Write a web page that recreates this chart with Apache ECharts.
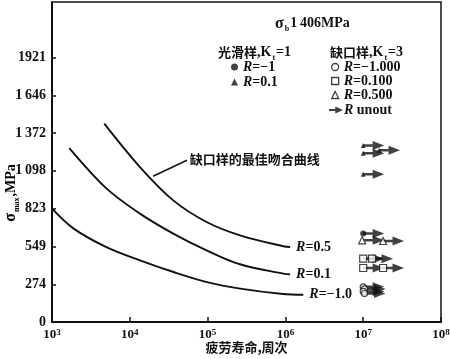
<!DOCTYPE html>
<html><head><meta charset="utf-8">
<script src="https://cdn.jsdelivr.net/npm/echarts@6/dist/echarts.min.js"></script>
<style>html,body{margin:0;padding:0;background:#fff}#c{width:450px;height:359px}</style>
</head><body><div id="c"></div>
<script>
// ---- data ----
const yTickValues = [0, 274, 549, 823, 1098, 1372, 1646, 1921];
const yTickLabels = ['0', '274', '549', '823', '1\u2009098', '1\u2009372', '1\u2009646', '1921'];
const xMin = 1e3, xMax = 1e8;

const curveM1N = [1000, 1900, 5000, 13500, 36500, 98000, 263000, 930000, 1700000];
const curveM1S = [823, 678, 544, 448, 363, 290, 242, 203, 198];
const curve01N = [1670, 5050, 13500, 36200, 97000, 261000, 940000, 1150000];
const curve01S = [1263, 968, 787, 642, 520, 419, 351, 346];
const curve05N = [4700, 13500, 36200, 97000, 261000, 940000, 1150000];
const curve05S = [1440, 1125, 883, 726, 629, 550, 544];

const smoothRm1N = [1e7];
const smoothRm1S = [642];
const smoothR01N = [1e7, 1.6e7, 1e7, 1e7];
const smoothR01S = [1282, 1246, 1225, 1072];
const notchRm1N = [1e7, 1.04e7, 1e7, 1.04e7];
const notchRm1S = [255, 240, 222, 207];
const notchR01N = [1e7, 1.3e7, 1e7, 1.8e7];
const notchR01S = [460, 460, 392, 392];
const notchR05N = [9.7e6, 1.8e7];
const notchR05S = [593, 588];
const runoutN = [1e7, 1.6e7, 1e7, 1e7, 1e7, 1e7, 1.8e7, 1e7, 1.3e7, 1e7, 1.8e7, 1e7, 1.04e7, 1e7, 1.04e7];
const runoutS = [1282, 1246, 1225, 1072, 642, 593, 588, 460, 460, 392, 392, 255, 240, 222, 207];

const leaderN = [19900, 54300];
const leaderS = [1058, 1174];

const zip = (a, b) => a.map((v, i) => [v, b[i]]);
const SERIF = 'Liberation Serif';
const CJK = 'Noto Sans CJK SC';
const INK = '#111';
const ARROW = 'path://M0,3.6 L9,3.6 L9,0 L20,5 L9,10 L9,6.4 L0,6.4 Z';

const legendText = {
  sA: '{i|R}=\u22121', sB: '{i|R}=0.1',
  nA: '{i|R}=\u22121.000', nB: '{i|R}=0.100', nC: '{i|R}=0.500', nD: '{i|R} unout'
};
const richBase = {
  i: { fontFamily: SERIF, fontStyle: 'italic', fontWeight: 'bold', fontSize: 14, color: INK },
  s: { fontFamily: SERIF, fontWeight: 'bold', fontSize: 8, color: INK, verticalAlign: 'bottom', lineHeight: 8, padding: [0, 1, 0, 1] },
  u: { fontFamily: SERIF, fontWeight: 'bold', fontSize: 9, color: INK, verticalAlign: 'top' },
  c: { fontFamily: CJK, fontWeight: 'bold', fontSize: 13, color: INK, lineHeight: 19 },
  a: { fontFamily: SERIF, fontWeight: 'bold', fontSize: 14, color: INK, lineHeight: 19 },
  g: { fontFamily: SERIF, fontWeight: 'bold', fontSize: 16, color: INK, lineHeight: 19 }
};

const chart = echarts.init(document.getElementById('c'), null, { renderer: 'canvas' });

function curve(name, N, S, label) {
  return {
    name, type: 'line', data: zip(N, S), smooth: 0.35, symbol: 'none',
    lineStyle: { color: INK, width: 1.9 }, silent: true,
    endLabel: { show: true, formatter: label, distance: 6, rich: richBase,
      fontFamily: SERIF, fontWeight: 'bold', fontSize: 14, color: INK }
  };
}
const legendTextStyle = { fontFamily: SERIF, fontWeight: 'bold', fontSize: 14, lineHeight: 14, color: INK,
  rich: Object.assign({}, richBase, { i: Object.assign({}, richBase.i, { lineHeight: 14 }) }) };

chart.setOption({
  animation: false,
  backgroundColor: '#fff',
  grid: { left: 52, right: 9, top: 2, bottom: 37, outerBoundsMode: 'none', containLabel: false,
    show: true, borderColor: INK, borderWidth: 1.5, backgroundColor: 'transparent' },
  title: [
    { text: '{g|\u03c3}{s|b}{a|1\u2009406MPa}', left: 275, top: 14, padding: 0, textStyle: { rich: richBase } },
    { text: '{c|光滑样}{a|,K}{s|t}{a|=1}', left: 218, top: 43, padding: 0, textStyle: { rich: richBase } },
    { text: '{c|缺口样}{a|,K}{s|t}{a|=3}', left: 330, top: 43, padding: 0, textStyle: { rich: richBase } }
  ],
  legend: [
    { left: 231, top: 60, padding: 0, orient: 'vertical', itemGap: 1, itemWidth: 7, itemHeight: 7, selectedMode: false,
      formatter: n => legendText[n], textStyle: legendTextStyle,
      data: [
        { name: 'sA', icon: 'circle', itemStyle: { color: INK } },
        { name: 'sB', icon: 'triangle', itemStyle: { color: INK } }
      ] },
    { left: 331, top: 60, padding: 0, orient: 'vertical', itemGap: 0, itemWidth: 7, itemHeight: 7, selectedMode: false,
      formatter: n => legendText[n], textStyle: legendTextStyle,
      data: [
        { name: 'nA', icon: 'circle', itemStyle: { color: '#fff', borderColor: INK, borderWidth: 1.3 } },
        { name: 'nB', icon: 'rect', itemStyle: { color: '#fff', borderColor: INK, borderWidth: 1.3 } },
        { name: 'nC', icon: 'triangle', itemStyle: { color: '#fff', borderColor: INK, borderWidth: 1.3 } }
      ] },
    { left: 329, top: 103, padding: 0, orient: 'vertical', itemWidth: 14, itemHeight: 7, selectedMode: false,
      formatter: n => legendText[n],
      textStyle: Object.assign({}, legendTextStyle, { padding: [0, 0, 0, -4] }),
      data: [ { name: 'nD', icon: ARROW, itemStyle: { color: INK } } ] }
  ],
  xAxis: {
    type: 'log', logBase: 10, min: xMin, max: xMax,
    name: '疲劳寿命,周次', nameLocation: 'middle', nameGap: 19, nameMoveOverlap: false,
    nameTextStyle: { fontFamily: CJK, fontWeight: 'bold', fontSize: 13, color: INK },
    axisLine: { lineStyle: { color: INK, width: 2 } },
    axisTick: { inside: true, length: 5, lineStyle: { color: INK, width: 1.5 } },
    minorTick: { show: false },
    splitLine: { show: false },
    axisLabel: {
      margin: 6, color: INK,
      formatter: v => '{a|10}{u|' + Math.round(Math.log10(v)) + '}',
      rich: { a: { fontFamily: SERIF, fontWeight: 'bold', fontSize: 13, color: INK }, u: richBase.u }
    }
  },
  yAxis: {
    type: 'value', min: 0, max: 2323,
    axisLine: { lineStyle: { color: INK, width: 2 } },
    axisTick: { inside: true, length: 4, customValues: yTickValues, lineStyle: { color: INK, width: 1.5 } },
    splitLine: { show: false },
    axisLabel: {
      customValues: yTickValues, margin: 6, color: INK, hideOverlap: false,
      fontFamily: SERIF, fontWeight: 'bold', fontSize: 14,
      formatter: v => yTickLabels[yTickValues.indexOf(Math.round(v))] ?? ''
    }
  },
  graphic: [
    { type: 'text', x: 11, y: 193, rotation: Math.PI / 2, z: 1,
      style: { text: '{g|\u03c3}{s|max}{a|,MPa}', rich: richBase, align: 'center', verticalAlign: 'middle' } }
  ],
  series: [
    curve('R=-1.0', curveM1N, curveM1S, '{i|R}=\u22121.0'),
    curve('R=0.1', curve01N, curve01S, '{i|R}=0.1'),
    Object.assign(curve('R=0.5', curve05N, curve05S, '{i|R}=0.5'), {
      markLine: {
        silent: true, symbol: 'none',
        lineStyle: { color: INK, width: 1.5, type: 'solid' },
        label: { show: true, position: 'end', distance: 3, formatter: '缺口样的最佳吻合曲线',
          fontFamily: CJK, fontWeight: 'bold', fontSize: 13, color: INK },
        data: [[{ coord: [leaderN[0], leaderS[0]] }, { coord: [leaderN[1], leaderS[1]] }]]
      }
    }),
    { name: 'nD', type: 'scatter', data: zip(runoutN, runoutS), symbol: ARROW, symbolSize: [21, 9],
      symbolOffset: ['50%', 0], itemStyle: { color: INK }, z: 3 },
    { name: 'sA', type: 'scatter', data: zip(smoothRm1N, smoothRm1S), symbol: 'circle', symbolSize: 6, itemStyle: { color: INK }, z: 4 },
    { name: 'sB', type: 'scatter', data: zip(smoothR01N, smoothR01S), symbol: 'triangle', symbolSize: 5, itemStyle: { color: INK }, z: 4 },
    { name: 'nA', type: 'scatter', data: zip(notchRm1N, notchRm1S), symbol: 'circle', symbolSize: 6,
      itemStyle: { color: '#fff', borderColor: INK, borderWidth: 1.2 }, z: 4 },
    { name: 'nB', type: 'scatter', data: zip(notchR01N, notchR01S), symbol: 'rect', symbolSize: 7,
      itemStyle: { color: '#fff', borderColor: INK, borderWidth: 1.2 }, z: 4 },
    { name: 'nC', type: 'scatter', data: zip(notchR05N, notchR05S), symbol: 'triangle', symbolSize: 7,
      itemStyle: { color: '#fff', borderColor: INK, borderWidth: 1.2 }, z: 4 }
  ]
});
</script>
</body></html>
